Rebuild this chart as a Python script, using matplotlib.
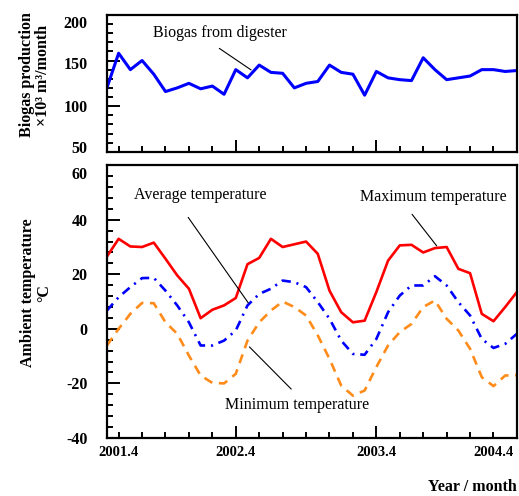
import numpy as np
import matplotlib.pyplot as plt
import matplotlib.transforms as mtransforms

plt.rcParams['font.family'] = ['Liberation Serif', 'DejaVu Serif']
plt.rcParams['axes.unicode_minus'] = False

# monthly record, index 0 = 2001.3
months = np.arange(36)

biogas = [120, 158, 140, 150, 135, 116, 120, 125, 119, 122, 113, 140,
          131, 145, 137, 136, 120, 125, 127, 145, 137, 135, 112, 138,
          131, 129, 128, 153, 140, 129, 131, 133, 140, 140, 138, 139]

t_max = [26.5, 33, 30.2, 30, 31.6, 25.7, 19.6, 14.7, 3.9, 7, 8.6, 11.3,
         23.7, 26, 33, 30, 31, 32, 27.5, 14, 6.1, 2.4, 3, 13.5,
         25, 30.6, 30.8, 28, 29.6, 30, 22, 20.4, 5.5, 2.8, 8, 13.5]

t_avg = [6.7, 11.6, 15.3, 18.6, 18.7, 14, 8.6, 2.4, -6.1, -6.1, -4.3, -0.6,
         8.6, 12.8, 14.7, 17.7, 17.1, 15.3, 9.8, 3.7, -4.3, -9.2, -9.5, -3.7,
         6.1, 12.2, 15.9, 15.9, 19.3, 15.9, 9.8, 4.9, -3.7, -7, -5.5, -1.8]

t_min = [-6.1, 0, 5.5, 9.5, 9.4, 2.4, -1.8, -9.8, -17.1, -19.8, -20, -16.5,
         -4.3, 2.4, 6.7, 10, 8, 4.9, -2.4, -11, -20.8, -24.5, -22.6, -14,
         -6.1, -1.2, 1.8, 8, 10.4, 3.7, -0.6, -7.3, -17.7, -21, -17.1, -17]

tick_months = [1, 11, 23, 33]
tick_labels = ['2001.4', '2002.4', '2003.4', '2004.4']

fig = plt.figure(figsize=(5.19, 4.96), dpi=100)
ax1 = fig.add_axes([0.206, 0.694, 0.790, 0.276])
ax2 = fig.add_axes([0.206, 0.117, 0.790, 0.550])


def style_axes(ax, show_labels):
    for sp in ax.spines.values():
        sp.set_linewidth(1.6)
    ax.set_xlim(0, 35)
    ax.set_xticks(tick_months)
    ax.set_xticks(range(1, 35, 2), minor=True)
    ax.set_xticklabels(tick_labels if show_labels else [])
    ax.tick_params(axis='both', which='both', direction='in', width=1.4,
                   top=False, right=False)
    ax.tick_params(axis='x', which='major', length=9, pad=6,
                   labelsize=10.5)
    ax.tick_params(axis='x', which='minor', length=4)
    ax.tick_params(axis='y', which='major', length=9, pad=14,
                   labelsize=11.5)
    ax.tick_params(axis='y', which='minor', length=4)
    # end labels sit on short ticks
    ticks = ax.xaxis.get_major_ticks()
    for i in (0, 3):
        ticks[i].tick1line.set_markersize(4)
    for lab in ax.get_xticklabels() + ax.get_yticklabels():
        lab.set_fontweight('bold')


def nudge_ylabels(ax, shifts):
    # shift individual y tick labels vertically (in points)
    for lab, dy in zip(ax.get_yticklabels(), shifts):
        lab.set_transform(lab.get_transform() + mtransforms.ScaledTranslation(
            0, dy / 72, fig.dpi_scale_trans))


# biogas panel
ax1.plot(months, biogas, color='#0000ff', lw=2.2)
ax1.set_ylim(50, 200)
ax1.set_yticks([50, 100, 150, 200])
ax1.set_yticks(np.arange(50, 201, 10), minor=True)
style_axes(ax1, False)
nudge_ylabels(ax1, [3.5, 0, -1.5, -5])
ax1.text(9.66, 180, 'Biogas from digester', fontsize=11.5,
         ha='center', va='center')
ax1.annotate('', xy=(12.5, 138), xytext=(9.4, 165),
             arrowprops=dict(arrowstyle='-', lw=0.8, color='black'))

# temperature panel
ax2.plot(months, t_max, color='#ff0000', lw=1.9)
ax2.plot(months, t_avg, color='#0000ff', lw=1.9,
         dashes=(3.5, 2.2, 0.8, 2.2))
ax2.plot(months, t_min, color='#ff8c1a', lw=1.9, dashes=(3.5, 2.5))
ax2.set_ylim(-40, 60)
ax2.set_yticks(np.arange(-40, 61, 20))
ax2.set_yticks(np.arange(-40, 61, 4), minor=True)
style_axes(ax2, True)
nudge_ylabels(ax2, [0, 0, 0, 0, 0, -5.5])

ax2.text(7.95, 49, 'Average temperature', fontsize=11.5,
         ha='center', va='center')
ax2.annotate('', xy=(12.2, 8.7), xytext=(6.8, 41.7),
             arrowprops=dict(arrowstyle='-', lw=0.8, color='black'))
ax2.text(27.9, 48.3, 'Maximum temperature', fontsize=11.5,
         ha='center', va='center')
ax2.annotate('', xy=(28.3, 29.6), xytext=(25.9, 42.8),
             arrowprops=dict(arrowstyle='-', lw=0.8, color='black'))
ax2.text(16.25, -27.9, 'Minimum temperature', fontsize=11.5,
         ha='center', va='center')
ax2.annotate('', xy=(15.9, -22.8), xytext=(12.0, -5.9),
             arrowprops=dict(arrowstyle='-', lw=0.8, color='black'))

# axis titles
fig.text(35 / 519, 1 - 75 / 496, 'Biogas production\n×10³ m³/month',
         rotation=90, ha='center', va='center', ma='center',
         fontsize=11.5, fontweight='bold', linespacing=1.05)
fig.text(36 / 519, 1 - 293 / 496, 'Ambient temperature\n°C',
         rotation=90, ha='center', va='center', ma='center',
         fontsize=11.5, fontweight='bold', linespacing=1.05)
fig.text(472 / 519, 1 - 487 / 496, 'Year / month', ha='center',
         va='center', fontsize=11.5, fontweight='bold')

fig.savefig('out.png', dpi=100)
